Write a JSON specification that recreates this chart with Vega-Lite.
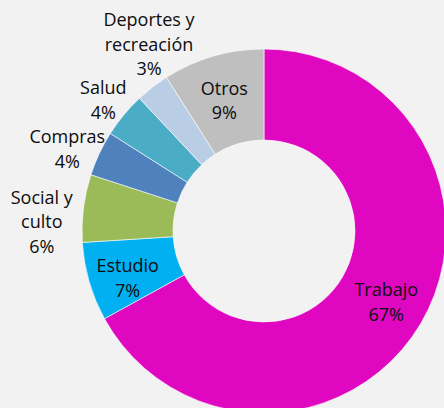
{
  "$schema": "https://vega.github.io/schema/vega-lite/v6.json",
  "width": 360,
  "height": 354,
  "autosize": {"type": "none"},
  "padding": {"left": 84, "top": 54, "right": 0, "bottom": 0},
  "background": "#f2f2f2",
  "config": {"view": {"stroke": null}, "text": {"font": "Open Sans", "fontSize": 18, "color": "#0d0d0d", "lineBreak": "\n", "lineHeight": 24.5, "align": "center", "baseline": "middle"}},
  "data": {"values": [
    {"cat": "Trabajo", "pct": 67, "orden": 1, "label": "Trabajo\n67%"},
    {"cat": "Estudio", "pct": 7, "orden": 2, "label": "Estudio\n7%"},
    {"cat": "Social y culto", "pct": 6, "orden": 3, "label": "Social y\nculto\n6%"},
    {"cat": "Compras", "pct": 4, "orden": 4, "label": "Compras\n4%"},
    {"cat": "Salud", "pct": 4, "orden": 5, "label": "Salud\n4%"},
    {"cat": "Deportes y recreación", "pct": 3, "orden": 6, "label": "Deportes y\nrecreación\n3%"},
    {"cat": "Otros", "pct": 9, "orden": 7, "label": "Otros\n9%"}
  ]},
  "encoding": {
    "theta": {"field": "pct", "type": "quantitative", "stack": true},
    "order": {"field": "orden", "type": "quantitative"}
  },
  "layer": [
    {
      "mark": {"type": "arc", "innerRadius": 91, "outerRadius": 182, "stroke": "#ffffff", "strokeWidth": 0.6},
      "encoding": {
        "color": {"field": "cat", "type": "nominal", "legend": null,
          "scale": {"domain": ["Trabajo", "Estudio", "Social y culto", "Compras", "Salud", "Deportes y recreación", "Otros"],
                    "range": ["#e007c0", "#00b0f0", "#9bbb59", "#4f81bd", "#4bacc6", "#b9cde5", "#bfbfbf"]}}
      }
    },
    {
      "mark": {"type": "text", "radius": 142, "dy": -12.25},
      "encoding": {"text": {"condition": {"test": "datum.cat === 'Trabajo'", "field": "label", "type": "nominal"}, "value": ""}}
    },
    {
      "mark": {"type": "text", "radius": 142, "dy": -3.25},
      "encoding": {"text": {"condition": {"test": "datum.cat === 'Estudio'", "field": "label", "type": "nominal"}, "value": ""}}
    },
    {
      "mark": {"type": "text", "radius": 135, "dx": -2, "dy": -11.5},
      "encoding": {"text": {"condition": {"test": "datum.cat === 'Otros'", "field": "label", "type": "nominal"}, "value": ""}}
    },
    {
      "mark": {"type": "text", "radius": 218, "dx": 18.6, "dy": -37.7},
      "encoding": {"text": {"condition": {"test": "datum.cat === 'Deportes y recreación'", "field": "label", "type": "nominal"}, "value": ""}}
    },
    {
      "mark": {"type": "text", "radius": 206, "dx": -2, "dy": -10.25},
      "encoding": {"text": {"condition": {"test": "datum.cat === 'Salud'", "field": "label", "type": "nominal"}, "value": ""}}
    },
    {
      "mark": {"type": "text", "radius": 213, "dx": -4, "dy": -2.25},
      "encoding": {"text": {"condition": {"test": "datum.cat === 'Compras'", "field": "label", "type": "nominal"}, "value": ""}}
    },
    {
      "mark": {"type": "text", "radius": 222, "dx": -2, "dy": -4.5},
      "encoding": {"text": {"condition": {"test": "datum.cat === 'Social y culto'", "field": "label", "type": "nominal"}, "value": ""}}
    }
  ]
}
